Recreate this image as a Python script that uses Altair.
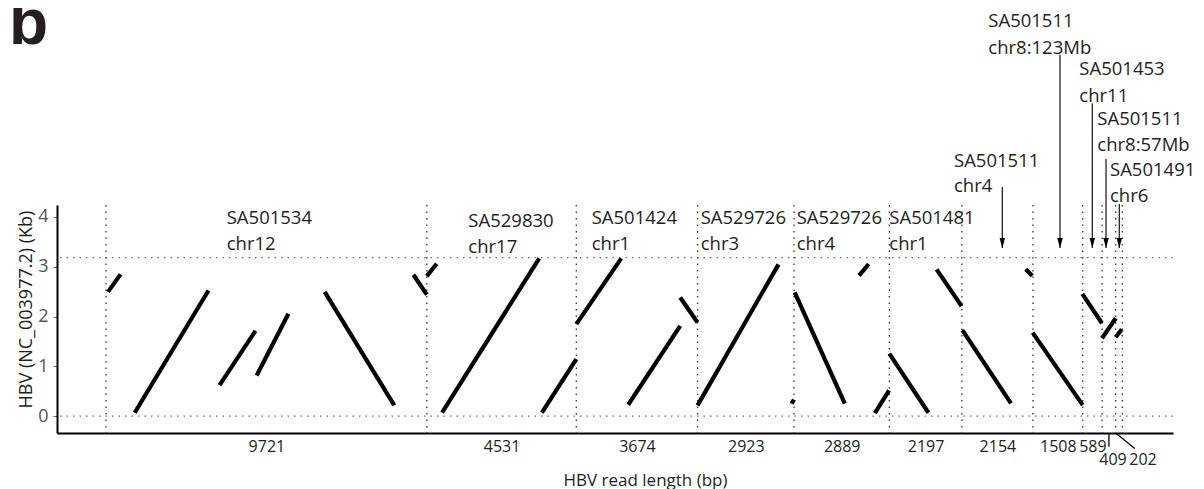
import altair as alt
import pandas as pd

# ---------------- data ----------------
read_lengths = [9721, 4531, 3674, 2923, 2889, 2197, 2154, 1508, 589, 409, 202]
hbv_genome_kb = 3.182

# alignment segments: position on concatenated reads (bp) -> HBV position (kb)
seg_read_start = [58, 869, 3441, 4565, 6627, 9315, 9721, 10184, 13208, 14252, 17400, 15824,
                  17926, 20775, 20869, 22820, 23299, 23738, 25168, 25950, 27869, 28081,
                  29585, 30182, 30597]
seg_read_end = [440, 3105, 4530, 5527, 8736, 9721, 10022, 13127, 14252, 15613, 17926, 17400,
                20379, 20849, 22388, 23112, 23731, 24922, 25927, 27424, 28070, 29597,
                30182, 30597, 30779]
seg_hbv_start = [2.495, 0.067, 0.62, 0.816, 2.495, 2.839, 2.812, 0.067, 0.067, 1.848, 2.383,
                 0.228, 0.215, 0.25, 2.484, 2.82, 0.06, 1.255, 2.947, 1.725, 2.95, 1.676,
                 2.455, 1.563, 1.583]
seg_hbv_end = [2.846, 2.522, 1.713, 2.057, 0.216, 2.441, 3.061, 3.169, 1.146, 3.169, 1.88,
               1.813, 3.048, 0.33, 0.248, 3.055, 0.517, 0.067, 2.209, 0.255, 2.82, 0.221,
               1.865, 1.966, 1.744]

# sample / chromosome labels placed over the long reads
low_sample = ["SA501534", "SA529830", "SA501424", "SA529726", "SA529726", "SA501481"]
low_chr = ["chr12", "chr17", "chr1", "chr3", "chr4", "chr1"]
low_x = [3658, 10979, 14718, 18021, 20930, 23736]
low_y1 = [3.98, 3.92, 3.98, 3.98, 3.98, 3.98]
low_y2 = [3.46, 3.40, 3.46, 3.46, 3.46, 3.46]

# labels with arrows for the short reads
top_sample = ["SA501511", "SA501511", "SA501453", "SA501511", "SA501491"]
top_chr = ["chr4", "chr8:123Mb", "chr11", "chr8:57Mb", "chr6"]
top_x = [25697, 26736, 29494, 30039, 30424]
top_y1 = [5.131, 7.934, 6.962, 5.976, 4.950]
top_y2 = [4.614, 7.398, 6.425, 5.439, 4.412]
arrow_x = [27161, 28909, 29888, 30303, 30706]
arrow_top = [4.60, 7.26, 6.28, 5.165, 4.26]
arrow_tip = [3.374, 3.374, 3.374, 3.374, 3.374]

# the two smallest reads get their length labels below, with leader lines
small_label = ["409", "202"]
small_label_x = [30515, 31424]
small_label_y = [-0.885, -0.885]
leader_x1 = [30392, 30616]
leader_x2 = [30392, 31173]
leader_y1 = [-0.348, -0.348]
leader_y2 = [-0.618, -0.650]

panel_letter = "b"
panel_letter_x = -2940
panel_letter_y = 7.48

x_domain = [-1485, 32333]
y_domain = [-0.34, 4.24]

# ---------------- derived tables ----------------
bounds = [0]
for L in read_lengths:
    bounds.append(bounds[-1] + L)
mids = [(bounds[i] + bounds[i + 1]) / 2 for i in range(len(read_lengths))]
axis_mids = mids[:9]
axis_lens = read_lengths[:9]
label_expr = "''"
for m, L in reversed(list(zip(axis_mids, axis_lens))):
    label_expr = f"datum.value == {m} ? '{L}' : ({label_expr})"

seg_df = pd.DataFrame({"x": seg_read_start, "x2": seg_read_end,
                       "y": seg_hbv_start, "y2": seg_hbv_end})
vline_df = pd.DataFrame({"x": bounds})
hline_df = pd.DataFrame({"y": [0, hbv_genome_kb]})

txt_rows = []
for s, c, x, a, b in zip(low_sample, low_chr, low_x, low_y1, low_y2):
    txt_rows.append({"x": x, "y": a, "t": s})
    txt_rows.append({"x": x, "y": b, "t": c})
for s, c, x, a, b in zip(top_sample, top_chr, top_x, top_y1, top_y2):
    txt_rows.append({"x": x, "y": a, "t": s})
    txt_rows.append({"x": x, "y": b, "t": c})
txt_df = pd.DataFrame(txt_rows)

arrow_df = pd.DataFrame({"x": arrow_x, "y": arrow_top, "y2": arrow_tip})
head_df = pd.DataFrame({"x": arrow_x, "y": arrow_tip})
small_df = pd.DataFrame({"x": small_label_x, "y": small_label_y, "t": small_label})
leader_df = pd.DataFrame({"x": leader_x1, "x2": leader_x2, "y": leader_y1, "y2": leader_y2})
letter_df = pd.DataFrame({"x": [panel_letter_x], "y": [panel_letter_y], "t": [panel_letter]})

# ---------------- scales / axes ----------------
FONT = "Open Sans"
TXT = "#231f20"
xs = alt.Scale(domain=x_domain, nice=False, zero=False)
ys = alt.Scale(domain=y_domain, nice=False, zero=False)

xaxis = alt.Axis(values=axis_mids, labelExpr=label_expr, ticks=False, grid=False,
                 domain=True, domainColor="black", domainWidth=2,
                 labelFont=FONT, labelFontSize=16, labelColor=TXT, labelPadding=5,
                 labelAngle=0, labelOverlap=False, labelFlush=False,
                 title="HBV read length (bp)", titleFont=FONT, titleFontSize=17,
                 titleFontWeight="normal", titleColor=TXT, titleX=588, titleY=52,
                 titleAlign="center", titleBaseline="alphabetic")
yaxis = alt.Axis(values=[0, 1, 2, 3, 4], format="d", grid=False,
                 domain=True, domainColor="black", domainWidth=2,
                 tickSize=4, tickColor="#666666", tickWidth=1,
                 labelFont=FONT, labelFontSize=18, labelColor="#555555", labelPadding=5,
                 title="HBV (NC_003977.2) (Kb)", titleFont=FONT, titleFontSize=18,
                 titleFontWeight="normal", titleColor=TXT, titleX=-26, titleY=104,
                 titleAngle=270, titleAlign="center", titleBaseline="alphabetic")

X = lambda f="x": alt.X(f"{f}:Q", scale=xs, axis=xaxis)
Y = lambda f="y": alt.Y(f"{f}:Q", scale=ys, axis=yaxis)

hlines = alt.Chart(hline_df).mark_rule(color="#6d6d6d", strokeWidth=1.3,
                                        strokeDash=[1.5, 5]).encode(y=Y())
vlines = alt.Chart(vline_df).mark_rule(color="#333333", strokeWidth=1.3,
                                        strokeDash=[1.5, 5]).encode(x=X())
segs = alt.Chart(seg_df).mark_rule(color="black", strokeWidth=4.2, strokeCap="butt").encode(
    x=X(), x2="x2:Q", y=Y(), y2="y2:Q")
arrows = alt.Chart(arrow_df).mark_rule(color="#222222", strokeWidth=1.3).encode(
    x=X(), y=Y(), y2="y2:Q")
heads = alt.Chart(head_df).mark_point(shape="M-0.55,-2L0.55,-2L0,0Z", size=100, filled=True,
                                      color="black", opacity=1).encode(x=X(), y=Y())
labels = alt.Chart(txt_df).mark_text(align="left", baseline="middle", font=FONT,
                                     fontSize=18.5, color=TXT).encode(x=X(), y=Y(), text="t:N")
small = alt.Chart(small_df).mark_text(align="center", baseline="middle", font=FONT,
                                      fontSize=16, color=TXT).encode(x=X(), y=Y(), text="t:N")
leaders = alt.Chart(leader_df).mark_rule(color="black", strokeWidth=1.3).encode(
    x=X(), x2="x2:Q", y=Y(), y2="y2:Q")
letter = alt.Chart(letter_df).mark_text(align="left", baseline="alphabetic",
                                        font="Liberation Sans", fontWeight="bold",
                                        fontSize=64, color=TXT).encode(x=X(), y=Y(), text="t:N")

chart = alt.layer(hlines, vlines, segs, arrows, heads, labels, small, leaders, letter).properties(
    width=1116, height=228,
    autosize=alt.AutoSizeParams(type="none"),
    padding={"left": 49, "top": 197, "right": 23, "bottom": 56},
).configure(background="white").configure_view(strokeWidth=0, stroke=None)

chart.save("out.html", embed_options={"renderer": "svg", "actions": False})
